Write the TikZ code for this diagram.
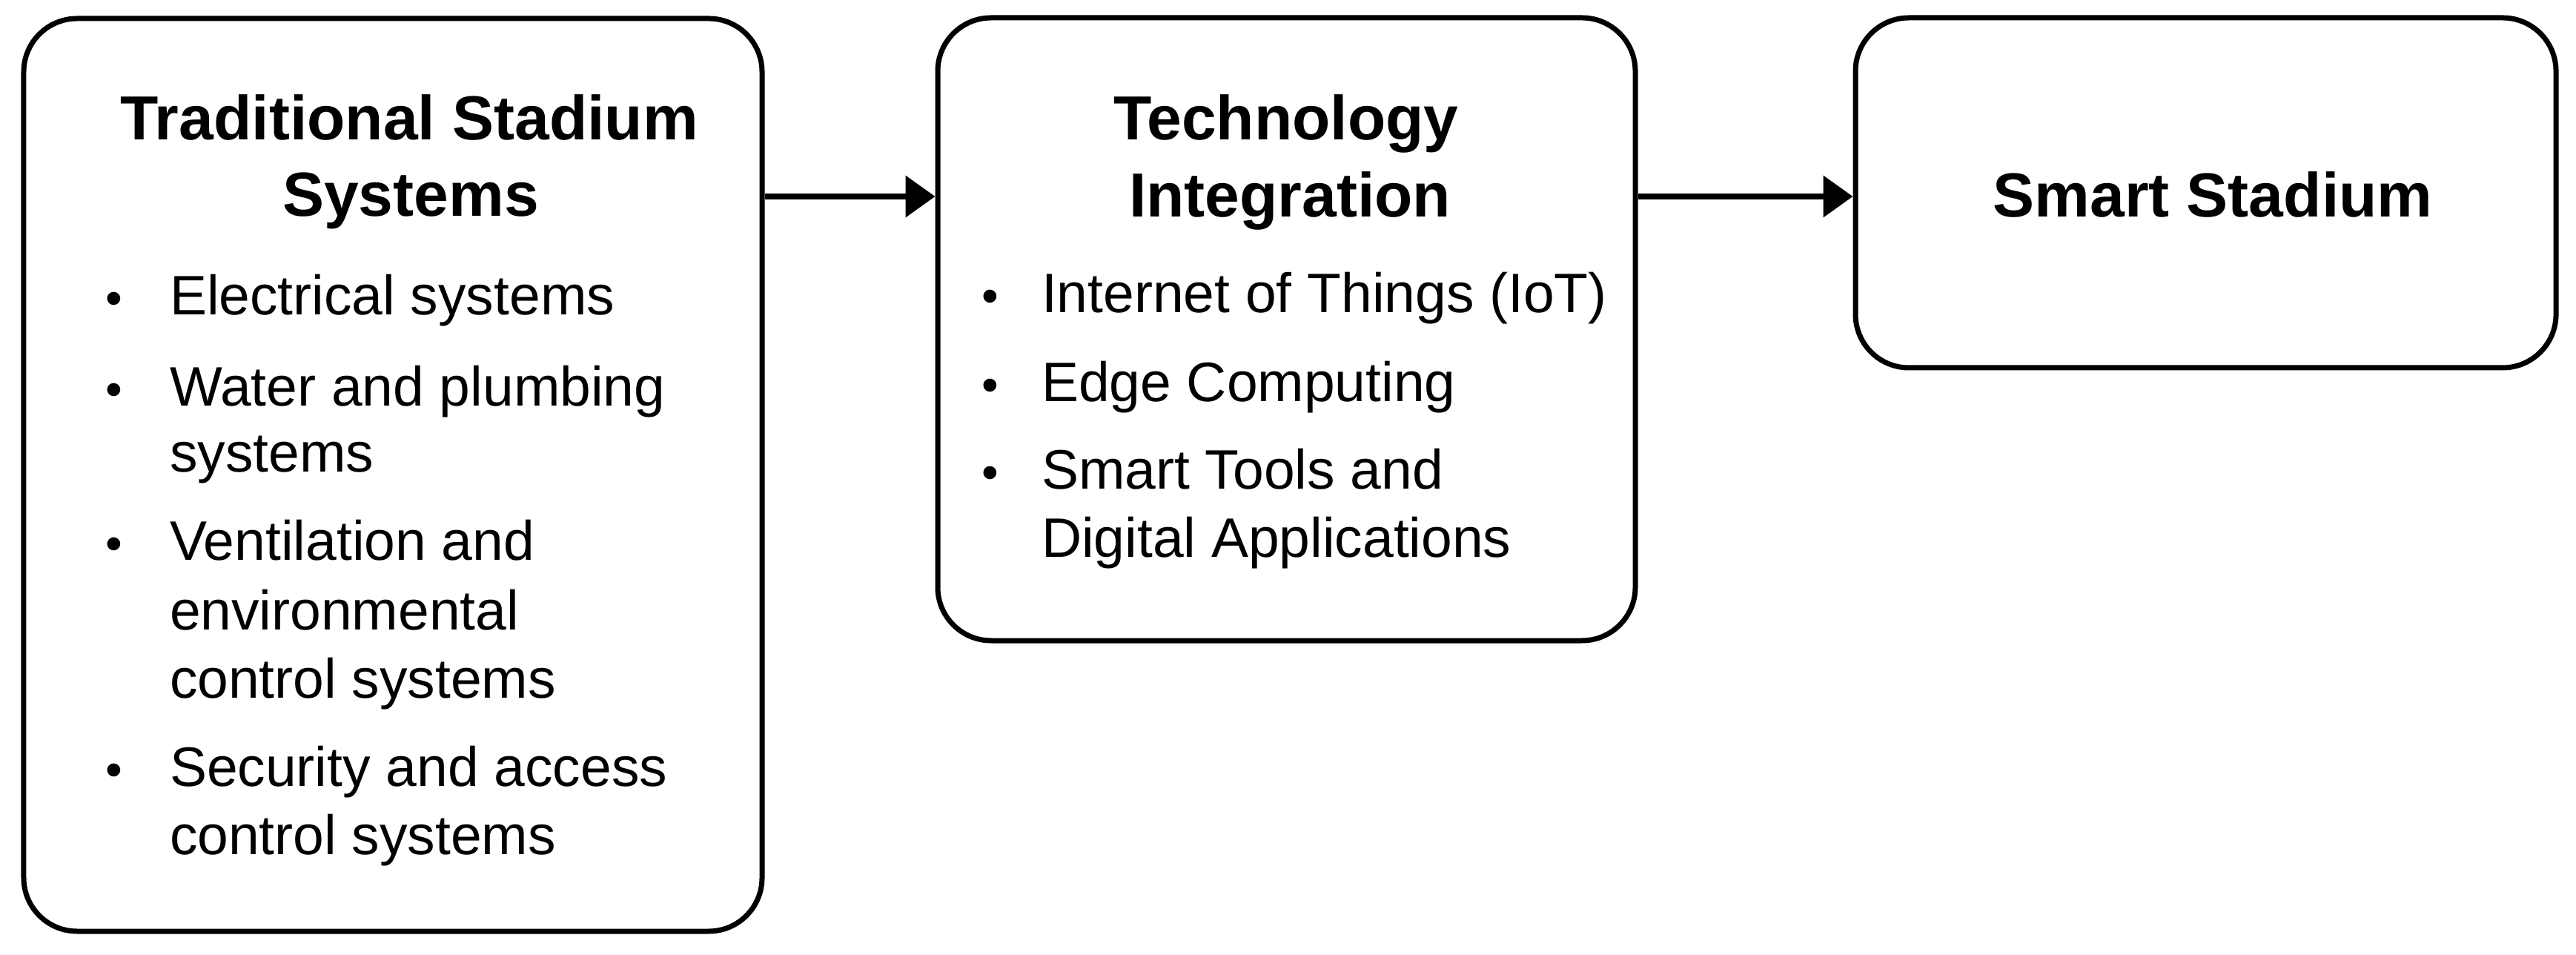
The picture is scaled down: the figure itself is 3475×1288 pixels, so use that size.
\documentclass[tikz,border=0pt]{standalone}
\usepackage{fontspec}
\setmainfont{Liberation Sans}
\usetikzlibrary{arrows.meta}
\begin{document}
\begin{tikzpicture}[x=0.2pt,y=-0.2pt,
  box/.style={draw=black, line width=1.4pt, rounded corners=14.4pt, inner sep=0pt, fill=white},
  ttl/.style={anchor=base, inner sep=0pt, font=\bfseries\fontsize{16.8}{20}\selectfont},
  txt/.style={anchor=base west, inner sep=0pt, font=\fontsize{15}{18}\selectfont},
  bul/.style={anchor=base, inner sep=0pt, font=\fontsize{13}{16}\selectfont},
  conn/.style={line width=1.5pt, -{Triangle[length=8pt,width=11pt]}}
]
\useasboundingbox[fill=white] (0,0) rectangle (3475,1288);

% boxes
\node[box, minimum width=199.2pt, minimum height=246.2pt] (b1) at (530,640.5) {};
\node[box, minimum width=188.2pt, minimum height=168pt] (b2) at (1735.5,444) {};
\node[box, minimum width=189pt, minimum height=94.4pt] (b3) at (2975.5,260) {};

% arrows
\coordinate (ay) at (0,265);
\draw[conn] (b1.east |- ay) -- (b2.west |- ay);
\draw[conn] (b2.east |- ay) -- (b3.west |- ay);

% box 1
\node[ttl] (t1a) at (552,189) {Traditional Stadium};
\node[ttl] (t1b) at (554,292) {Systems};
\node[bul] (p1) at (154,425) {•};
\node[txt] (l1) at (228,425) {Electrical systems};
\node[bul] (p2) at (154,548) {•};
\node[txt] (l2) at (228,548) {Water and plumbing};
\node[txt] (l3) at (228,637) {systems};
\node[bul] (p3) at (154,756) {•};
\node[txt] (l4) at (228,756) {Ventilation and};
\node[txt] (l5) at (228,850) {environmental};
\node[txt] (l6) at (228,942) {control systems};
\node[bul] (p4) at (154,1061) {•};
\node[txt] (l7) at (228,1061) {Security and access};
\node[txt] (l8) at (228,1153) {control systems};

% box 2
\node[ttl] (t2a) at (1735,189) {Technology};
\node[ttl] (t2b) at (1740,293) {Integration};
\node[bul] (q1) at (1336,422) {•};
\node[txt] (m1) at (1404,422) {Internet of Things (IoT)};
\node[bul] (q2) at (1336,542) {•};
\node[txt] (m2) at (1404,542) {Edge Computing};
\node[bul] (q3) at (1336,660) {•};
\node[txt] (m3) at (1404,660) {Smart Tools and};
\node[txt] (m4) at (1404,752) {Digital Applications};

% box 3
\node[ttl] (t3) at (2985,293) {Smart Stadium};
\end{tikzpicture}
\end{document}
